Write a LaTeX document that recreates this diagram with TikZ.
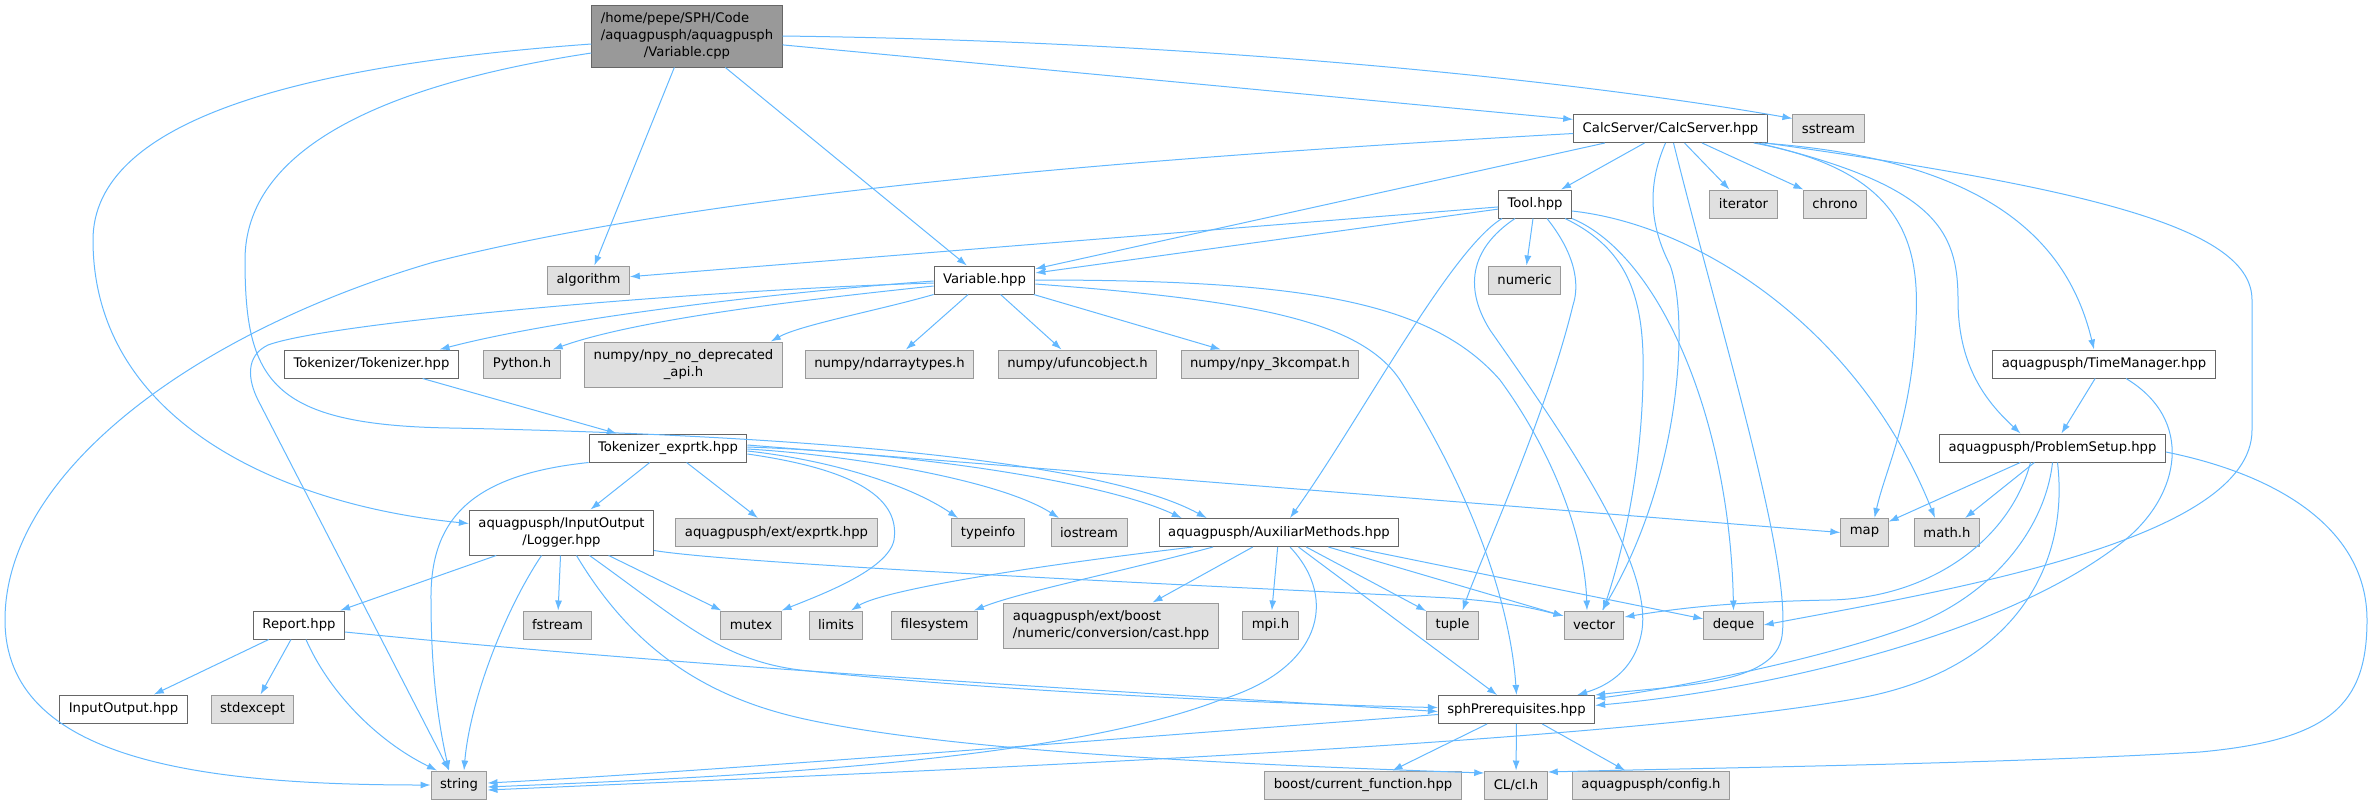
\documentclass[tikz,border=0pt]{standalone}
\usepackage{fontspec}
\setmainfont{DejaVu Sans}
\usepackage{tikz}
\usetikzlibrary{arrows.meta}
\definecolor{edgeblue}{HTML}{63B8FF}
\definecolor{sysfill}{HTML}{E0E0E0}
\definecolor{sysline}{HTML}{999999}
\definecolor{hdrline}{HTML}{666666}
\tikzstyle{hdr}=[draw=hdrline, fill=white, line width=1pt, minimum height=28pt, inner xsep=9pt, inner ysep=0pt, font=\fontsize{13.2}{16.7}\selectfont]
\tikzstyle{sys}=[hdr, draw=sysline, fill=sysfill]
\tikzstyle{rootfile}=[hdr, fill=sysline, minimum height=62pt]
\tikzstyle{incl}=[->, color=edgeblue, line width=1pt]

\begin{document}
\begin{tikzpicture}[x=1pt,y=-1pt,>={Latex[length=10pt,width=7pt]}]
    \useasboundingbox (0,0) rectangle (2374,804);
    \node [rootfile] (root) at (687,36) {\begin{tabular}{@{}l@{}}/home/pepe/SPH/Code\\/aquagpusph/aquagpusph\\\multicolumn{1}{@{}c@{}}{/Variable.cpp}\end{tabular}};
    \node [hdr] (calc) at (1670.5,128.5) {CalcServer/CalcServer.hpp};
    \node [sys] (sstream) at (1828.5,128.5) {sstream};
    \node [hdr] (tool) at (1535,204) {Tool.hpp};
    \node [sys] (iterator) at (1743.5,204) {iterator};
    \node [sys] (chrono) at (1835,204) {chrono};
    \node [sys] (algorithm) at (588.5,280) {algorithm};
    \node [hdr] (varhpp) at (984.5,280) {Variable.hpp};
    \node [sys] (numeric) at (1524.5,280) {numeric};
    \node [hdr] (tokenizer) at (371.5,364) {Tokenizer/Tokenizer.hpp};
    \node [sys] (python) at (522,364) {Python.h};
    \node [sys, minimum height=45pt, align=center] (npydep) at (683.5,364.5) {numpy/npy\_no\_deprecated\\\_api.h};
    \node [sys] (ndarray) at (889.5,364) {numpy/ndarraytypes.h};
    \node [sys] (ufunc) at (1077.5,364) {numpy/ufuncobject.h};
    \node [sys] (npycompat) at (1270,364) {numpy/npy\_3kcompat.h};
    \node [hdr] (timeman) at (2104,364) {aquagpusph/TimeManager.hpp};
    \node [hdr] (exprtk) at (668,448) {Tokenizer\_exprtk.hpp};
    \node [hdr] (problem) at (2052.5,448) {aquagpusph/ProblemSetup.hpp};
    \node [hdr, minimum height=45pt, align=center] (logger) at (561.5,532.5) {aquagpusph/InputOutput\\/Logger.hpp};
    \node [sys] (extexprtk) at (776.5,532.5) {aquagpusph/ext/exprtk.hpp};
    \node [sys] (typeinfo) at (988,532.5) {typeinfo};
    \node [sys] (iostream) at (1089,532.5) {iostream};
    \node [hdr] (auxiliar) at (1279,532.5) {aquagpusph/AuxiliarMethods.hpp};
    \node [sys] (map) at (1864.5,532.5) {map};
    \node [sys] (mathh) at (1947,532.5) {math.h};
    \node [hdr] (report) at (299,625) {Report.hpp};
    \node [sys] (fstream) at (557.5,625) {fstream};
    \node [sys] (mutex) at (751,625) {mutex};
    \node [sys] (limits) at (836,625) {limits};
    \node [sys] (filesystem) at (934.5,625) {filesystem};
    \node [sys, minimum height=45pt, align=left] (boostcast) at (1111,625.5) {aquagpusph/ext/boost\\/numeric/conversion/cast.hpp};
    \node [sys] (mpih) at (1270.5,625) {mpi.h};
    \node [sys] (tuple) at (1452.5,625) {tuple};
    \node [sys] (vector) at (1594,625) {vector};
    \node [sys] (deque) at (1733.5,625) {deque};
    \node [hdr] (inputoutput) at (123.5,709) {InputOutput.hpp};
    \node [sys] (stdexcept) at (252.5,709) {stdexcept};
    \node [hdr] (sph) at (1516.5,709.5) {sphPrerequisites.hpp};
    \node [sys] (string) at (459,785) {string};
    \node [sys] (boostcf) at (1363,785) {boost/current\_function.hpp};
    \node [sys] (clh) at (1516,785) {CL/cl.h};
    \node [sys] (config) at (1651,785) {aquagpusph/config.h};

    % Variable.cpp
    \path[incl] (root) edge (calc);
    \draw[incl] (root.east) .. controls (1250,42) and (1620,88) .. ([yshift=10pt]sstream.west);
    \path[incl] (root) edge (algorithm);
    \path[incl] (root) edge (varhpp);
    \draw[incl] ([yshift=-8pt]root.west) .. controls (300,65) and (93,120) .. (93,240) .. controls (93,420) and (280,505) .. ([yshift=9pt]logger.west);
    \draw[incl] ([yshift=-17pt]root.west) .. controls (380,85) and (245,150) .. (245,260) .. controls (245,380) and (270,425) .. (450,428) .. controls (800,435) and (1100,460) .. ([xshift=48pt]auxiliar.north west);

    % CalcServer.hpp
    \path[incl] (calc) edge (tool);
    \path[incl] (calc) edge (varhpp);
    \path[incl] (calc) edge (iterator);
    \path[incl] (calc) edge (chrono);
    \draw[incl] ([yshift=-5pt]calc.west) .. controls (1100,160) and (700,195) .. (434,262) .. controls (200,330) and (5,470) .. (5,620) .. controls (5,760) and (200,785) .. (string.west);
    \draw[incl] ([xshift=-5pt]calc.south) .. controls (1645,190) and (1652,230) .. (1670,265) .. controls (1690,320) and (1680,480) .. ([xshift=8pt]vector.north);
    \draw[incl] ([xshift=3pt]calc.south) .. controls (1720,330) and (1792,560) .. (1782,636) .. controls (1775,685) and (1680,685) .. (sph.north east);
    \draw[incl] ([xshift=-14pt]calc.south east) .. controls (1900,170) and (1920,240) .. (1916,320) .. controls (1912,420) and (1885,470) .. ([xshift=10pt]map.north);
    \draw[incl] ([xshift=-10pt]calc.south east) .. controls (1935,185) and (1958,230) .. (1958,300) .. controls (1958,370) and (1990,405) .. ([xshift=-32pt]problem.north);
    \draw[incl] ([xshift=-6pt]calc.south east) .. controls (2000,160) and (2070,250) .. ([xshift=-10pt]timeman.north);
    \draw[incl] ([xshift=-2pt]calc.south east) .. controls (2100,190) and (2252,230) .. (2252,300) -- (2252,430) .. controls (2252,540) and (1950,590) .. (deque.east);

    % Tool.hpp
    \path[incl] (tool) edge (algorithm);
    \path[incl] (tool) edge (varhpp);
    \path[incl] (tool) edge (numeric);
    \draw[incl] ([xshift=-33pt]tool.south) .. controls (1450,250) and (1360,420) .. ([xshift=11pt]auxiliar.north);
    \draw[incl] ([xshift=-20pt]tool.south) .. controls (1468,250) and (1465,290) .. (1490,330) .. controls (1560,430) and (1652,560) .. (1642,630) .. controls (1635,675) and (1600,688) .. ([xshift=-18pt]sph.north east);
    \draw[incl] ([xshift=12pt]tool.south) .. controls (1580,260) and (1578,290) .. (1573,305) .. controls (1545,420) and (1480,560) .. ([xshift=10pt]tuple.north);
    \draw[incl] ([xshift=30pt]tool.south) .. controls (1630,250) and (1645,300) .. (1643,380) .. controls (1641,480) and (1620,560) .. ([xshift=9pt]vector.north);
    \draw[incl] (tool.south east) .. controls (1660,255) and (1730,420) .. (deque.north);
    \draw[incl] ([yshift=-7pt]tool.east) .. controls (1700,225) and (1860,330) .. ([xshift=-12pt]mathh.north);

    % Variable.hpp
    \draw[incl] ([yshift=-3pt]varhpp.west) .. controls (700,290) and (330,322) .. (268,345) .. controls (245,356) and (248,380) .. (258,400) -- ([xshift=-10pt]string.north);
    \draw[incl] ([yshift=-1pt]varhpp.west) .. controls (780,292) and (560,318) .. ([xshift=68pt]tokenizer.north);
    \draw[incl] ([yshift=-6pt]varhpp.west) .. controls (820,298) and (640,318) .. ([xshift=-8pt]python.north east);
    \draw[incl] (varhpp.south west) .. controls (880,310) and (800,325) .. ([xshift=-12pt]npydep.north east);
    \path[incl] (varhpp) edge (ndarray);
    \path[incl] (varhpp) edge (ufunc);
    \path[incl] (varhpp) edge (npycompat);
    \draw[incl] (varhpp.east) .. controls (1300,280) and (1430,300) .. (1500,380) .. controls (1555,455) and (1585,540) .. ([xshift=-7pt]vector.north);
    \draw[incl] ([yshift=-4pt]varhpp.east) .. controls (1250,300) and (1360,320) .. (1400,380) .. controls (1470,490) and (1510,600) .. (sph.north);

    % Tokenizer
    \path[incl] (tokenizer) edge (exprtk);
    \draw[incl] (exprtk.south west) .. controls (470,475) and (430,520) .. (431,600) .. controls (431,680) and (440,730) .. ([xshift=-10pt]string.north);
    \path[incl] (exprtk) edge (logger);
    \path[incl] (exprtk) edge (extexprtk);
    \draw[incl] ([yshift=-3pt]exprtk.east) .. controls (830,460) and (910,485) .. ([xshift=-30pt]typeinfo.north);
    \draw[incl] ([yshift=-1pt]exprtk.east) .. controls (850,455) and (1000,480) .. ([xshift=-30pt]iostream.north);
    \draw[incl] ([yshift=1pt]exprtk.east) .. controls (900,452) and (1100,480) .. ([xshift=23pt]auxiliar.north west);
    \draw[incl] ([yshift=3pt]exprtk.east) -- (map.west);
    \draw[incl] ([yshift=-6pt]exprtk.east) .. controls (860,470) and (900,500) .. (894,540) .. controls (888,570) and (820,595) .. (mutex.north east);

    % Logger.hpp
    \path[incl] (logger) edge (report);
    \path[incl] (logger) edge (fstream);
    \path[incl] (logger) edge (mutex);
    \draw[incl] ([xshift=-20pt]logger.south) .. controls (505,610) and (470,700) .. ([xshift=5pt]string.north);
    \draw[incl] ([yshift=-18pt]logger.east) .. controls (750,566) and (1300,590) .. (1450,598) .. controls (1510,602) and (1540,610) .. ([yshift=9pt]vector.west);
    \draw[incl] ([xshift=28pt]logger.south) .. controls (680,620) and (720,660) .. (800,670) .. controls (1000,692) and (1300,705) .. ([yshift=2pt]sph.west);
    \draw[incl] ([xshift=15pt]logger.south) .. controls (630,645) and (700,695) .. (800,718) .. controls (950,752) and (1250,765) .. ([yshift=12pt]clh.west);

    % Report.hpp
    \path[incl] (report) edge (inputoutput);
    \path[incl] (report) edge (stdexcept);
    \draw[incl] ([xshift=7pt]report.south) .. controls (328,690) and (375,740) .. ([xshift=-22pt]string.north);
    \draw[incl] ([yshift=-7pt]report.east) .. controls (700,668) and (1100,690) .. ([yshift=-2pt]sph.west);

    % AuxiliarMethods.hpp
    \draw[incl] ([xshift=-86pt]auxiliar.south) .. controls (1000,570) and (880,592) .. ([xshift=15pt]limits.north);
    \draw[incl] ([xshift=-66pt]auxiliar.south) .. controls (1120,572) and (1020,592) .. ([xshift=-4pt]filesystem.north east);
    \path[incl] (auxiliar) edge (boostcast);
    \path[incl] (auxiliar) edge (mpih);
    \path[incl] (auxiliar) edge (tuple);
    \path[incl] (auxiliar) edge (vector);
    \path[incl] (auxiliar) edge (deque);
    \path[incl] (auxiliar) edge (sph);
    \draw[incl] ([xshift=11pt]auxiliar.south) .. controls (1340,600) and (1320,670) .. (1220,700) .. controls (1050,765) and (700,778) .. ([yshift=-2pt]string.east);

    % sphPrerequisites.hpp
    \draw[incl] ([yshift=-5pt]sph.west) .. controls (1100,740) and (700,772) .. ([yshift=2pt]string.east);
    \path[incl] (sph) edge (boostcf);
    \path[incl] (sph) edge (clh);
    \path[incl] (sph) edge (config);

    % TimeManager.hpp
    \path[incl] (timeman) edge (problem);
    \draw[incl] ([xshift=22pt]timeman.south) .. controls (2195,420) and (2180,495) .. (2125,540) .. controls (2000,640) and (1750,692) .. (sph.3);

    % ProblemSetup.hpp
    \path[incl] (problem) edge (map);
    \path[incl] (problem) edge (mathh);
    \draw[incl] ([xshift=-22pt]problem.south) .. controls (2010,540) and (1930,598) .. (1830,600) .. controls (1730,602) and (1680,608) .. ([yshift=8pt]vector.east);
    \draw[incl] (problem.south) .. controls (2045,530) and (1990,600) .. (1900,630) .. controls (1800,665) and (1650,692) .. (sph.8);
    \draw[incl] ([xshift=5pt]problem.south) .. controls (2070,570) and (2010,670) .. (1860,698) .. controls (1600,745) and (900,772) .. ([yshift=-5pt]string.east);
    \draw[incl] ([yshift=-4pt]problem.east) .. controls (2280,475) and (2367,530) .. (2367,620) .. controls (2367,705) and (2330,740) .. (2200,752) .. controls (2000,764) and (1700,768) .. ([yshift=13pt]clh.east);
\end{tikzpicture}
\end{document}
